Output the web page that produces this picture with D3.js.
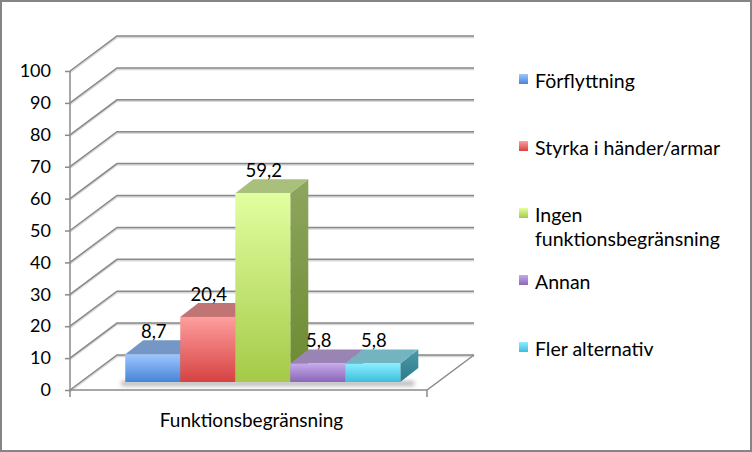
<!DOCTYPE html>
<html><head><meta charset="utf-8">
<script src="https://cdn.jsdelivr.net/npm/d3@7"></script>
<style>body{margin:0;background:#fff}svg{display:block}text{font-family:Lato,"Open Sans",sans-serif;fill:#000}</style>
</head><body>
<svg id="c" width="752" height="452"></svg>
<script>
const categories = ["Funktionsbegränsning"];
const seriesNames = ["Förflyttning", "Styrka i händer/armar", "Ingen funktionsbegränsning", "Annan", "Fler alternativ"];
const legendLines = [["Förflyttning"], ["Styrka i händer/armar"], ["Ingen", "funktionsbegränsning"], ["Annan"], ["Fler alternativ"]];
const values = [8.7, 20.4, 59.2, 5.8, 5.8];
const valueLabels = ["8,7", "20,4", "59,2", "5,8", "5,8"];
const yTicks = [0, 10, 20, 30, 40, 50, 60, 70, 80, 90, 100];
// colours: [frontTop, frontBottom, topFace, sideTop, sideBottom]
const palette = [
  ["#9ec6ff", "#4784d6", "#7597c6", "#5a80b8", "#3a64a0"],
  ["#ff9e9e", "#d64242", "#c07474", "#b05a5a", "#983838"],
  ["#e2ffa0", "#a4ca48", "#a8c07c", "#8ea65e", "#6a8a30"],
  ["#c6aaea", "#8a66b8", "#9a84b4", "#8068a4", "#604890"],
  ["#8aeeff", "#3ebedc", "#74b4c0", "#4a98a8", "#2e7a8c"]
];

const svg = d3.select("#c");
const defs = svg.append("defs");
palette.forEach((p, i) => {
  const g = defs.append("linearGradient").attr("id", "gf" + i).attr("x1", 0).attr("y1", 0).attr("x2", 0).attr("y2", 1);
  g.append("stop").attr("offset", "0%").attr("stop-color", p[0]);
  g.append("stop").attr("offset", "100%").attr("stop-color", p[1]);
  const s = defs.append("linearGradient").attr("id", "gs" + i).attr("x1", 0).attr("y1", 0).attr("x2", 0).attr("y2", 1);
  s.append("stop").attr("offset", "0%").attr("stop-color", p[3]);
  s.append("stop").attr("offset", "100%").attr("stop-color", p[4]);
});
defs.append("filter").attr("id", "blur").attr("x", "-20%").attr("y", "-100%").attr("width", "140%").attr("height", "300%")
  .append("feGaussianBlur").attr("stdDeviation", 2);

// frame
svg.append("rect").attr("x", 1).attr("y", 1).attr("width", 750).attr("height", 450)
  .attr("fill", "none").attr("stroke", "#858585").attr("stroke-width", 2);

const x0Left = 70, x0Right = 427;
const depth = [47, -35];
const y = d3.scaleLinear().domain([0, 100]).range([390, 71]);
const x0 = d3.scaleBand().domain(categories).range([x0Left, x0Right]);
const x1 = d3.scaleBand().domain(seriesNames).range([0, x0.bandwidth()]).paddingOuter(0.745).align(0.54);

const gridCol = "#8a8a8a";
const grid = svg.append("g");
// wall gridlines
yTicks.forEach(t => {
  const yy = y(t);
  grid.append("path")
    .attr("d", `M${x0Left},${yy}L${x0Left + depth[0]},${yy + depth[1]}L${x0Right + depth[0]},${yy + depth[1]}`)
    .attr("fill", "none").attr("stroke", "#d8d8d8").attr("stroke-width", 2.5).attr("transform", "translate(0,1)");
  grid.append("path")
    .attr("d", `M${x0Left},${yy}L${x0Left + depth[0]},${yy + depth[1]}L${x0Right + depth[0]},${yy + depth[1]}`)
    .attr("fill", "none").attr("stroke", gridCol).attr("stroke-width", 1.5);
});
// floor front + right edge
const y0 = y(0);
grid.append("path")
  .attr("d", `M${x0Left},${y0}L${x0Right},${y0}L${x0Right + depth[0]},${y0 + depth[1]}`)
  .attr("fill", "none").attr("stroke", gridCol).attr("stroke-width", 1.5);
// vertical axis
const axis = d3.axisLeft(y).tickValues(yTicks).tickSize(5).tickPadding(14).tickFormat(d3.format("d"));
const ag = svg.append("g").attr("transform", `translate(${x0Left},0)`).call(axis);
ag.select(".domain").attr("d", `M0,${y(100)}V${y0 + 7}`).attr("stroke", gridCol).attr("stroke-width", 1.5);
ag.selectAll(".tick line").attr("stroke", gridCol).attr("stroke-width", 1.5);
ag.selectAll(".tick text").attr("font-size", 18).attr("font-family", "Lato").attr("fill", "#000");
// category axis tick at right end
svg.append("line").attr("x1", x0Right).attr("x2", x0Right).attr("y1", y0).attr("y2", y0 + 7)
  .attr("stroke", gridCol).attr("stroke-width", 1.5);
svg.append("text").attr("x", x0(categories[0]) + x0.bandwidth() / 2 + 3).attr("y", 427)
  .attr("text-anchor", "middle").attr("font-size", 19).text(categories[0]);

// bars
const frontOff = [11, -8];
const bd = [18, -14];
const bw = x1.bandwidth();
const baseY = y0 + frontOff[1];
const hScale = v => y0 - y(v);
const bars = svg.append("g");
// shadow
bars.append("rect")
  .attr("x", x0(categories[0]) + x1(seriesNames[0]) + frontOff[0] - 4)
  .attr("y", baseY - 1).attr("width", bw * seriesNames.length + bd[0])
  .attr("height", 5).attr("fill", "#999").attr("opacity", 0.7).attr("filter", "url(#blur)");
seriesNames.forEach((s, i) => {
  const xl = x0(categories[0]) + x1(s) + frontOff[0];
  const h = hScale(values[i]);
  const top = baseY - h;
  const g = bars.append("g");
  // side
  g.append("path").attr("d", `M${xl + bw},${top}L${xl + bw + bd[0]},${top + bd[1]}L${xl + bw + bd[0]},${baseY + bd[1]}L${xl + bw},${baseY}Z`)
    .attr("fill", `url(#gs${i})`);
  // top
  g.append("path").attr("d", `M${xl},${top}L${xl + bd[0]},${top + bd[1]}L${xl + bw + bd[0]},${top + bd[1]}L${xl + bw},${top}Z`)
    .attr("fill", palette[i][2]);
  // front
  g.append("rect").attr("x", xl).attr("y", top).attr("width", bw).attr("height", h).attr("fill", `url(#gf${i})`);
});
// labels
seriesNames.forEach((s, i) => {
  const xl = x0(categories[0]) + x1(s) + frontOff[0];
  const top = baseY - hScale(values[i]);
  svg.append("text").attr("x", xl + bw / 2 + 1).attr("y", top + bd[1] - 2)
    .attr("text-anchor", "middle").attr("font-size", 18.5).text(valueLabels[i]);
});

// legend
const lg = svg.append("g").attr("transform", "translate(519,88)");
legendLines.forEach((lines, i) => {
  const g = lg.append("g").attr("transform", `translate(0,${i * 67})`);
  g.append("rect").attr("x", 0).attr("y", -14).attr("width", 9).attr("height", 10).attr("fill", `url(#gf${i})`);
  lines.forEach((t, j) => {
    g.append("text").attr("x", 16).attr("y", j * 24).attr("font-size", 19.5).text(t);
  });
});
</script>
</body></html>
